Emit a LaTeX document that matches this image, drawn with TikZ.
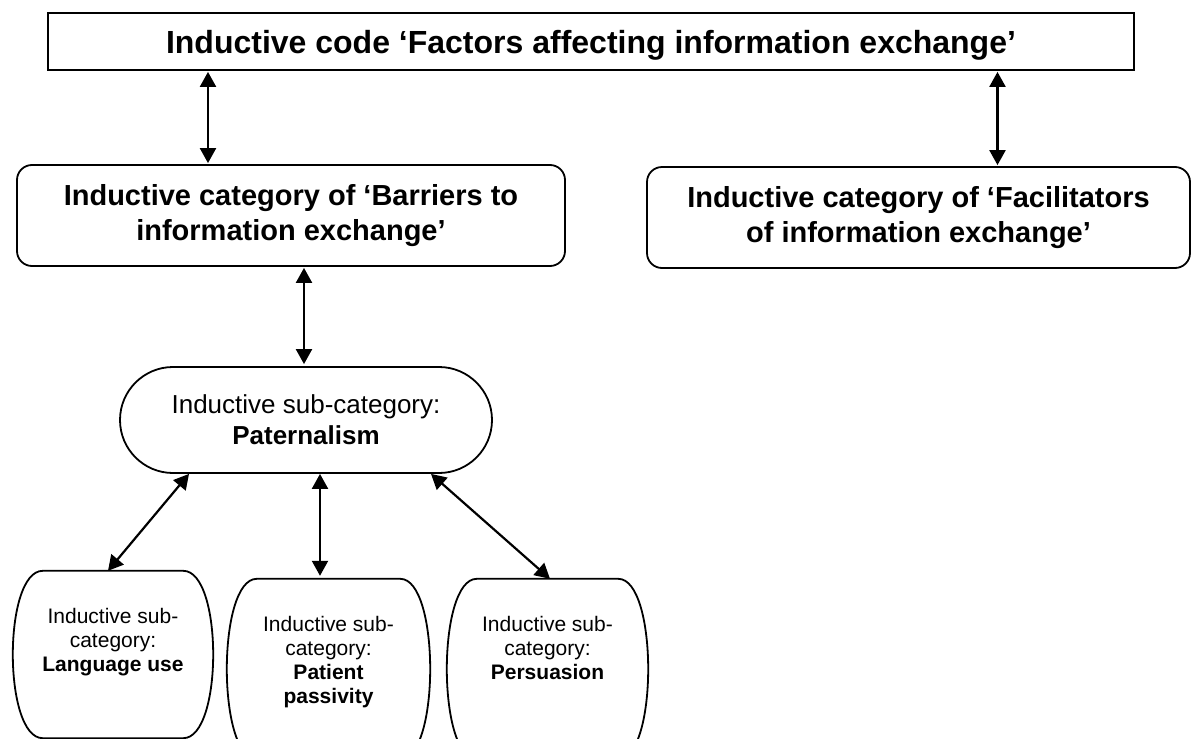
\documentclass[tikz,border=0pt]{standalone}
\usepackage{fontspec}
\setmainfont{Liberation Sans}
\usetikzlibrary{arrows.meta,calc}
\begin{document}
\begin{tikzpicture}[x=1pt,y=-1pt,
  box/.style={draw, line width=1.8pt, align=center, inner sep=0pt},
  outl/.style={line width=1.8pt},
  dbl/.style={line width=2.2pt, {Triangle[width=16pt,length=15pt]}-{Triangle[width=16pt,length=15pt]}},
  subtxt/.style={font=\fontsize{21}{24}\selectfont, align=center, inner sep=0pt, anchor=north}]
\useasboundingbox (0,0) rectangle (1192,739);

% main boxes
\node[box, minimum width=1086pt, minimum height=57pt, text height=27pt, text depth=3.4pt,
      font=\fontsize{32}{38}\selectfont\bfseries] (top) at (591,41.5)
      {Inductive code ‘Factors affecting information exchange’};
\node[box, rounded corners=15pt, minimum width=548pt, minimum height=101pt,
      font=\fontsize{29}{35}\selectfont\bfseries] (bar) at (291,215.5)
      {Inductive category of ‘Barriers to\\information exchange’};
\node[box, rounded corners=15pt, minimum width=543pt, minimum height=101pt,
      font=\fontsize{29}{35}\selectfont\bfseries] (fac) at (918.5,217.5)
      {Inductive category of ‘Facilitators\\of information exchange’};
\node[box, rounded corners=53pt, minimum width=372pt, minimum height=106pt,
      font=\fontsize{26}{31}\selectfont] (pat) at (306,420)
      {Inductive sub-category:\\\textbf{Paternalism}};

% bottom barrel shapes (frames)
\node[minimum width=200pt, minimum height=167pt, inner sep=0pt] (s1) at (113,654.5) {};
\node[minimum width=203pt, minimum height=180pt, inner sep=0pt] (s2) at (328.5,669) {};
\node[minimum width=201pt, minimum height=180pt, inner sep=0pt] (s3) at (547.5,669) {};
\foreach \s in {s1,s2,s3}{
  \draw[outl] ($(\s.north west)+(30,0)$) -- ($(\s.north east)+(-30,0)$)
    .. controls ($(\s.north east)+(10,0)$) and ($(\s.south east)+(10,0)$) .. ($(\s.south east)+(-30,0)$)
    -- ($(\s.south west)+(30,0)$)
    .. controls ($(\s.south west)+(-10,0)$) and ($(\s.north west)+(-10,0)$) .. cycle;
}
\node[subtxt] (t1) at (113,607.7) {Inductive sub-\\category:\\\textbf{Language use}};
\node[subtxt] (t2) at (328.5,615.7) {Inductive sub-\\category:\\\textbf{Patient}\\\textbf{passivity}};
\node[subtxt] (t3) at (547.5,615.7) {Inductive sub-\\category:\\\textbf{Persuasion}};

% connectors
\draw[dbl, shorten <=1pt, shorten >=1pt] ([xshift=-383pt]top.south) -- ([xshift=-83pt]bar.north);
\draw[dbl, shorten <=1pt, shorten >=1pt] ([xshift=406.5pt]top.south) -- ([xshift=79pt]fac.north);
\draw[dbl, shorten <=1pt, shorten >=2pt] ([xshift=13pt]bar.south) -- ([xshift=-2pt]pat.north);
\draw[dbl] ([xshift=-117pt]pat.south) -- ([xshift=-5pt]s1.north);
\draw[dbl, shorten >=3pt] ([xshift=14pt]pat.south) -- ([xshift=-8.5pt]s2.north);
\draw[dbl] ([xshift=125pt]pat.south) -- ([xshift=2.5pt]s3.north);
\end{tikzpicture}
\end{document}
